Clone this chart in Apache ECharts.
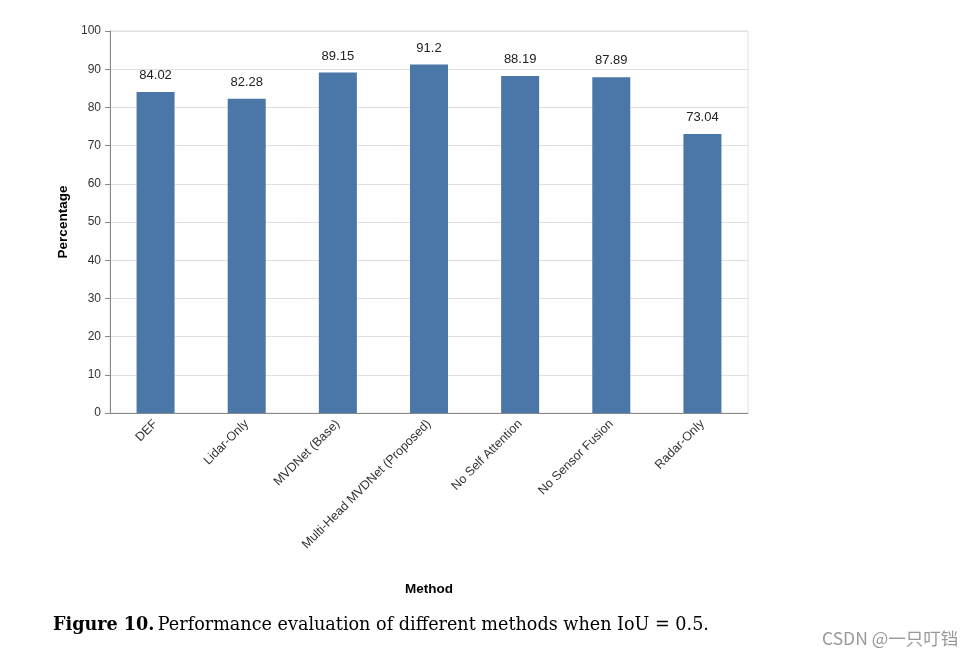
<!DOCTYPE html>
<html><head><meta charset="utf-8">
<script src="https://cdn.jsdelivr.net/npm/echarts@6/dist/echarts.min.js"></script>
<style>html,body{margin:0;padding:0;background:#fff;}#c{width:972px;height:661px;}</style>
</head><body><div id="c"></div>
<script>
const categories = ['DEF','Lidar-Only','MVDNet (Base)','Multi-Head MVDNet (Proposed)','No Self Attention','No Sensor Fusion','Radar-Only'];
const values = [84.02, 82.28, 89.15, 91.2, 88.19, 87.89, 73.04];
const yTicks = [0,10,20,30,40,50,60,70,80,90,100];

const chart = echarts.init(document.getElementById('c'));
chart.setOption({
  animation:false,
  backgroundColor:'#fff',
  grid:{left:110,right:224,top:31,bottom:248,show:true,borderColor:'#e0e0e0',borderWidth:1},
  xAxis:{type:'category',data:categories,
    name:'Method',nameLocation:'middle',nameGap:169,
    nameTextStyle:{fontFamily:'Liberation Sans',fontWeight:'bold',fontSize:13.5,color:'#000'},
    axisLine:{lineStyle:{color:'#888'}},
    axisTick:{alignWithLabel:true,lineStyle:{color:'#888'},length:5},
    axisLabel:{rotate:45,fontFamily:'Liberation Sans',fontSize:12.5,color:'#333',interval:0,margin:9}},
  yAxis:{type:'value',min:0,max:100,interval:10,
    name:'Percentage',nameLocation:'middle',nameGap:40,
    nameTextStyle:{fontFamily:'Liberation Sans',fontWeight:'bold',fontSize:13.5,color:'#000'},
    axisLine:{show:true,lineStyle:{color:'#888'}},
    axisTick:{show:true,lineStyle:{color:'#888'},length:5},
    axisLabel:{fontFamily:'Liberation Sans',fontSize:12,color:'#333',margin:9,
      formatter:v=>yTicks.includes(v)?String(v):''},
    splitLine:{lineStyle:{color:'#e0e0e0'}}},
  series:[{type:'bar',data:values,barWidth:38,
    itemStyle:{color:'#4a76a8'},
    label:{show:true,position:'top',distance:10,fontFamily:'Liberation Sans',fontSize:13,color:'#222'}}],
  graphic:[
    {type:'text',left:53,top:616,style:{rich:{b:{fontFamily:'DejaVu Serif',fontWeight:'bold',fontSize:17.6,fill:'#000'},n:{fontFamily:'DejaVu Serif',fontSize:17.6,fill:'#000'}},
      text:'{b|Figure 10.} {n|Performance evaluation of different methods when IoU = 0.5.}'}},
    {type:'text',left:822,top:630,style:{text:'CSDN @一只叮铛',fontFamily:'Noto Sans CJK SC',fontSize:17.5,fill:'#999'}}
  ]
});
</script></body></html>
